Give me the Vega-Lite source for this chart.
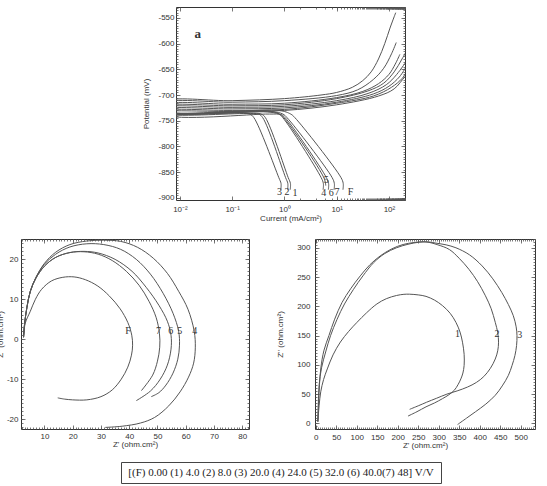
{
"$schema": "https://vega.github.io/schema/vega-lite/v6.json",
"background": "white",
"padding": {"left": -5, "top": 6, "right": 4, "bottom": 0},
"config": {
  "view": {"stroke": "#333", "strokeWidth": 1},
  "axis": {"grid": false, "domain": false, "labelFont": "Liberation Sans", "labelFontSize": 8, "labelColor": "#333", "titleFont": "Liberation Sans", "titleFontSize": 8, "titleFontWeight": "normal", "titleColor": "#333", "tickColor": "#555", "tickWidth": 0.8, "tickSize": -4, "labelPadding": 7, "titlePadding": 2, "labelFlush": false, "labelOverlap": false},
  "line": {"color": "#555", "strokeWidth": 1, "interpolate": "catmull-rom"},
  "text": {"font": "Liberation Serif", "fontSize": 10, "color": "#333"}
},
"spacing": 11,
"vconcat": [
 {"spacing": 15, "vconcat": [
  {"spacing": 154, "bounds": "flush", "hconcat": [
   {"width": 1, "height": 1, "view": {"stroke": null}, "data": {"values": [{"s": 1}]}, "mark": {"type": "point", "opacity": 0, "size": 0}},
   {"width": 229, "height": 193,
    "data": {"values": [
{"c":"F","i":1,"x":13.18,"y":-884},{"c":"F","i":2,"x":13.34,"y":-872},{"c":"F","i":3,"x":12.02,"y":-860},{"c":"F","i":4,"x":1.585,"y":-744},{"c":"F","i":5,"x":1.318,"y":-737},{"c":"F","i":6,"x":0.794,"y":-730},{"c":"F","i":7,"x":0.005,"y":-730},{"c":"F","i":8,"x":0.005,"y":-713},{"c":"F","i":9,"x":0.1,"y":-711},{"c":"F","i":10,"x":1,"y":-707},{"c":"F","i":11,"x":5.01,"y":-700},{"c":"F","i":12,"x":10,"y":-695},{"c":"F","i":13,"x":19.95,"y":-685},{"c":"F","i":14,"x":31.6,"y":-672},{"c":"F","i":15,"x":45.7,"y":-655},{"c":"F","i":16,"x":63.1,"y":-630},{"c":"F","i":17,"x":83.2,"y":-600},{"c":"F","i":18,"x":104.7,"y":-570},{"c":"F","i":19,"x":125.9,"y":-548},{"c":"F","i":20,"x":134.9,"y":-540},
{"c":"7","i":1,"x":8.913,"y":-884},{"c":"7","i":2,"x":9.016,"y":-872},{"c":"7","i":3,"x":8.128,"y":-860},{"c":"7","i":4,"x":1.122,"y":-744},{"c":"7","i":5,"x":0.933,"y":-737},{"c":"7","i":6,"x":0.562,"y":-732},{"c":"7","i":7,"x":0.005,"y":-732},{"c":"7","i":8,"x":0.005,"y":-716},{"c":"7","i":9,"x":0.1,"y":-714},{"c":"7","i":10,"x":1,"y":-711},{"c":"7","i":11,"x":10,"y":-701},{"c":"7","i":12,"x":25.1,"y":-690},{"c":"7","i":13,"x":50.1,"y":-670},{"c":"7","i":14,"x":79.4,"y":-648},{"c":"7","i":15,"x":112,"y":-620},{"c":"7","i":16,"x":138,"y":-598},
{"c":"6","i":1,"x":6.918,"y":-884},{"c":"6","i":2,"x":6.998,"y":-872},{"c":"6","i":3,"x":6.31,"y":-860},{"c":"6","i":4,"x":1.03,"y":-744},{"c":"6","i":5,"x":0.857,"y":-738},{"c":"6","i":6,"x":0.516,"y":-737},{"c":"6","i":7,"x":0.005,"y":-737},{"c":"6","i":8,"x":0.005,"y":-720},{"c":"6","i":9,"x":0.1,"y":-718},{"c":"6","i":10,"x":1,"y":-716},{"c":"6","i":11,"x":10,"y":-705},{"c":"6","i":12,"x":31.6,"y":-693},{"c":"6","i":13,"x":63.1,"y":-678},{"c":"6","i":14,"x":100,"y":-660},{"c":"6","i":15,"x":132,"y":-640},{"c":"6","i":16,"x":162,"y":-621},
{"c":"5","i":1,"x":6.166,"y":-876},{"c":"5","i":2,"x":5.754,"y":-862},{"c":"5","i":3,"x":0.971,"y":-744},{"c":"5","i":4,"x":0.807,"y":-737},{"c":"5","i":5,"x":0.486,"y":-731},{"c":"5","i":6,"x":0.005,"y":-731},{"c":"5","i":7,"x":0.005,"y":-722},{"c":"5","i":8,"x":0.1,"y":-721},{"c":"5","i":9,"x":1,"y":-719},{"c":"5","i":10,"x":10,"y":-707},{"c":"5","i":11,"x":39.8,"y":-692},{"c":"5","i":12,"x":79.4,"y":-677},{"c":"5","i":13,"x":126,"y":-655},{"c":"5","i":14,"x":178,"y":-630},{"c":"5","i":15,"x":224,"y":-612},
{"c":"4","i":1,"x":5.495,"y":-884},{"c":"4","i":2,"x":5.559,"y":-872},{"c":"4","i":3,"x":5.012,"y":-860},{"c":"4","i":4,"x":0.929,"y":-744},{"c":"4","i":5,"x":0.773,"y":-737},{"c":"4","i":6,"x":0.466,"y":-733},{"c":"4","i":7,"x":0.005,"y":-733},{"c":"4","i":8,"x":0.005,"y":-725},{"c":"4","i":9,"x":0.1,"y":-724},{"c":"4","i":10,"x":1,"y":-722},{"c":"4","i":11,"x":10,"y":-711},{"c":"4","i":12,"x":39.8,"y":-697},{"c":"4","i":13,"x":89.1,"y":-680},{"c":"4","i":14,"x":141,"y":-660},{"c":"4","i":15,"x":224,"y":-632},
{"c":"3","i":1,"x":0.851,"y":-884},{"c":"3","i":2,"x":0.861,"y":-872},{"c":"3","i":3,"x":0.776,"y":-860},{"c":"3","i":4,"x":0.26,"y":-744},{"c":"3","i":5,"x":0.216,"y":-737},{"c":"3","i":6,"x":0.13,"y":-734},{"c":"3","i":7,"x":0.005,"y":-734},{"c":"3","i":8,"x":0.005,"y":-728},{"c":"3","i":9,"x":0.1,"y":-727},{"c":"3","i":10,"x":1,"y":-725},{"c":"3","i":11,"x":10,"y":-714},{"c":"3","i":12,"x":50.1,"y":-698},{"c":"3","i":13,"x":100,"y":-683},{"c":"3","i":14,"x":158,"y":-665},{"c":"3","i":15,"x":224,"y":-642},
{"c":"2","i":1,"x":1.148,"y":-884},{"c":"2","i":2,"x":1.161,"y":-872},{"c":"2","i":3,"x":1.047,"y":-860},{"c":"2","i":4,"x":0.384,"y":-744},{"c":"2","i":5,"x":0.319,"y":-737},{"c":"2","i":6,"x":0.192,"y":-736},{"c":"2","i":7,"x":0.005,"y":-736},{"c":"2","i":8,"x":0.005,"y":-731},{"c":"2","i":9,"x":0.1,"y":-730},{"c":"2","i":10,"x":1,"y":-728},{"c":"2","i":11,"x":10,"y":-716},{"c":"2","i":12,"x":50.1,"y":-702},{"c":"2","i":13,"x":112,"y":-685},{"c":"2","i":14,"x":178,"y":-668},{"c":"2","i":15,"x":224,"y":-652},
{"c":"1","i":1,"x":1.288,"y":-884},{"c":"1","i":2,"x":1.303,"y":-872},{"c":"1","i":3,"x":1.175,"y":-860},{"c":"1","i":4,"x":0.432,"y":-744},{"c":"1","i":5,"x":0.359,"y":-737},{"c":"1","i":6,"x":0.216,"y":-735},{"c":"1","i":7,"x":0.005,"y":-735},{"c":"1","i":8,"x":0.005,"y":-733},{"c":"1","i":9,"x":0.1,"y":-732},{"c":"1","i":10,"x":1,"y":-730},{"c":"1","i":11,"x":10,"y":-719},{"c":"1","i":12,"x":63.1,"y":-702},{"c":"1","i":13,"x":126,"y":-688},{"c":"1","i":14,"x":200,"y":-665},{"c":"1","i":15,"x":224,"y":-660}
    ]},
    "layer": [
     {"mark": {"type": "line", "clip": true},
      "encoding": {
       "x": {"field": "x", "type": "quantitative", "scale": {"type": "log", "domain": [0.0084, 203], "nice": false}, "axis": {"orient": "bottom", "values": [0.01, 0.1, 1, 10, 100], "labelExpr": "datum.value < 0.05 ? '10⁻²' : datum.value < 0.5 ? '10⁻¹' : datum.value < 5 ? '10⁰' : datum.value < 50 ? '10¹' : '10²'", "title": "Current (mA/cm²)", "labelPadding": 9, "titlePadding": 1}},
       "y": {"field": "y", "type": "quantitative", "scale": {"domain": [-904, -529], "nice": false, "zero": false}, "axis": {"orient": "left", "values": [-900, -850, -800, -750, -700, -650, -600, -550], "labelExpr": "replace(datum.label, '−', '-')", "title": "Potential (mV)", "labelPadding": 6, "titlePadding": 7}},
       "detail": {"field": "c"},
       "order": {"field": "i"}
      }},
     {"mark": {"type": "point", "opacity": 0, "clip": true},
      "encoding": {
       "x": {"field": "x", "type": "quantitative", "scale": {"type": "log", "domain": [0.0084, 203], "nice": false}, "axis": {"orient": "top", "values": [0.01, 0.1, 1, 10, 100], "labels": false, "title": null}},
       "y": {"field": "y", "type": "quantitative", "scale": {"domain": [-904, -529], "nice": false, "zero": false}, "axis": {"orient": "right", "values": [-900, -850, -800, -750, -700, -650, -600, -550], "labels": false, "title": null}}
      }},
     {"mark": {"type": "point", "opacity": 0, "clip": true},
      "encoding": {
       "x": {"field": "x", "type": "quantitative", "scale": {"type": "log", "domain": [0.0084, 203], "nice": false}, "axis": {"orient": "bottom", "tickCount": 100, "labels": false, "title": null, "tickSize": -2}},
       "y": {"field": "y", "type": "quantitative", "scale": {"domain": [-904, -529], "nice": false, "zero": false}, "axis": {"orient": "left", "tickCount": 75, "labels": false, "title": null, "tickSize": -2}}
      }},
     {"mark": {"type": "point", "opacity": 0, "clip": true},
      "encoding": {
       "x": {"field": "x", "type": "quantitative", "scale": {"type": "log", "domain": [0.0084, 203], "nice": false}, "axis": {"orient": "top", "tickCount": 100, "labels": false, "title": null, "tickSize": -2}},
       "y": {"field": "y", "type": "quantitative", "scale": {"domain": [-904, -529], "nice": false, "zero": false}, "axis": {"orient": "right", "tickCount": 75, "labels": false, "title": null, "tickSize": -2}}
      }},
     {"data": {"values": [{"t": "3", "x": 0.8, "y": -889}, {"t": "2", "x": 1.12, "y": -889}, {"t": "1", "x": 1.6, "y": -890}, {"t": "4", "x": 5.68, "y": -890}, {"t": "6", "x": 7.85, "y": -890}, {"t": "7", "x": 10.1, "y": -889}, {"t": "F", "x": 18.5, "y": -889}, {"t": "5", "x": 6.3, "y": -866}]},
      "mark": {"type": "text"},
      "encoding": {
       "x": {"field": "x", "type": "quantitative", "scale": {"type": "log", "domain": [0.0084, 203], "nice": false}, "axis": null},
       "y": {"field": "y", "type": "quantitative", "scale": {"domain": [-904, -529], "nice": false, "zero": false}, "axis": null},
       "text": {"field": "t"}
      }},
     {"data": {"values": [{"t": "a", "x": 0.022, "y": -582}]},
      "mark": {"type": "text", "fontWeight": "bold", "fontSize": 13},
      "encoding": {
       "x": {"field": "x", "type": "quantitative", "scale": {"type": "log", "domain": [0.0084, 203], "nice": false}, "axis": null},
       "y": {"field": "y", "type": "quantitative", "scale": {"domain": [-904, -529], "nice": false, "zero": false}, "axis": null},
       "text": {"field": "t"}
      }}
    ],
    "resolve": {"axis": {"x": "independent", "y": "independent"}}
   }
  ]},
  {"spacing": 66, "bounds": "flush", "hconcat": [
   {"width": 228, "height": 190,
    "data": {"values": [
{"c":"4","i":1,"x":2.6,"y":0.5},{"c":"4","i":2,"x":3,"y":4},{"c":"4","i":3,"x":3.8,"y":8},{"c":"4","i":4,"x":5,"y":12},{"c":"4","i":5,"x":7,"y":15.5},{"c":"4","i":6,"x":10,"y":19},{"c":"4","i":7,"x":14,"y":21.8},{"c":"4","i":8,"x":19,"y":23.7},{"c":"4","i":9,"x":25,"y":24.6},{"c":"4","i":10,"x":31,"y":24.8},{"c":"4","i":11,"x":37,"y":24.5},{"c":"4","i":12,"x":43,"y":23},{"c":"4","i":13,"x":48.5,"y":20.3},{"c":"4","i":14,"x":53.5,"y":16.5},{"c":"4","i":15,"x":57.5,"y":12},{"c":"4","i":16,"x":60.8,"y":7.5},{"c":"4","i":17,"x":63,"y":2},{"c":"4","i":18,"x":63.4,"y":-2},{"c":"4","i":19,"x":62.8,"y":-6},{"c":"4","i":20,"x":61,"y":-9.5},{"c":"4","i":21,"x":58,"y":-13.2},{"c":"4","i":22,"x":54,"y":-16.7},{"c":"4","i":23,"x":49,"y":-19.6},{"c":"4","i":24,"x":44,"y":-21},{"c":"4","i":25,"x":37.5,"y":-21.8},{"c":"4","i":26,"x":31.5,"y":-22.1},
{"c":"5","i":1,"x":2.6,"y":0.5},{"c":"5","i":2,"x":3,"y":4},{"c":"5","i":3,"x":3.8,"y":8},{"c":"5","i":4,"x":5,"y":12},{"c":"5","i":5,"x":7,"y":15.5},{"c":"5","i":6,"x":10,"y":18.8},{"c":"5","i":7,"x":14,"y":21.3},{"c":"5","i":8,"x":19,"y":23.1},{"c":"5","i":9,"x":25,"y":23.9},{"c":"5","i":10,"x":31,"y":23.7},{"c":"5","i":11,"x":37,"y":22.5},{"c":"5","i":12,"x":42.5,"y":20},{"c":"5","i":13,"x":47.5,"y":16.3},{"c":"5","i":14,"x":52,"y":11.5},{"c":"5","i":15,"x":55.5,"y":6.5},{"c":"5","i":16,"x":57.5,"y":2},{"c":"5","i":17,"x":57.8,"y":-1.5},{"c":"5","i":18,"x":57.2,"y":-5},{"c":"5","i":19,"x":55.5,"y":-8.5},{"c":"5","i":20,"x":53,"y":-11.5},{"c":"5","i":21,"x":50.5,"y":-13.4},{"c":"5","i":22,"x":47.8,"y":-14.4},
{"c":"6","i":1,"x":2.6,"y":0.5},{"c":"6","i":2,"x":3,"y":4},{"c":"6","i":3,"x":3.8,"y":8},{"c":"6","i":4,"x":5,"y":12},{"c":"6","i":5,"x":7,"y":15.3},{"c":"6","i":6,"x":10,"y":18.3},{"c":"6","i":7,"x":14,"y":20.5},{"c":"6","i":8,"x":19,"y":21.7},{"c":"6","i":9,"x":24,"y":22},{"c":"6","i":10,"x":29,"y":21.6},{"c":"6","i":11,"x":35,"y":20},{"c":"6","i":12,"x":41,"y":17},{"c":"6","i":13,"x":46,"y":13},{"c":"6","i":14,"x":50.5,"y":8.5},{"c":"6","i":15,"x":53.5,"y":4.5},{"c":"6","i":16,"x":54.8,"y":1},{"c":"6","i":17,"x":54.8,"y":-2.5},{"c":"6","i":18,"x":53.5,"y":-6.5},{"c":"6","i":19,"x":51,"y":-10},{"c":"6","i":20,"x":47.5,"y":-13},{"c":"6","i":21,"x":42.5,"y":-15.4},
{"c":"7","i":1,"x":2.6,"y":0.5},{"c":"7","i":2,"x":3,"y":4},{"c":"7","i":3,"x":3.8,"y":8},{"c":"7","i":4,"x":5,"y":12},{"c":"7","i":5,"x":7,"y":15.3},{"c":"7","i":6,"x":10,"y":18.3},{"c":"7","i":7,"x":14,"y":20.5},{"c":"7","i":8,"x":19,"y":21.7},{"c":"7","i":9,"x":24,"y":21.9},{"c":"7","i":10,"x":29,"y":21.3},{"c":"7","i":11,"x":34,"y":19.7},{"c":"7","i":12,"x":39,"y":17},{"c":"7","i":13,"x":43.5,"y":13.5},{"c":"7","i":14,"x":47,"y":9.5},{"c":"7","i":15,"x":49.5,"y":5.5},{"c":"7","i":16,"x":50.7,"y":1.5},{"c":"7","i":17,"x":50.8,"y":-2},{"c":"7","i":18,"x":50,"y":-5.5},{"c":"7","i":19,"x":48.3,"y":-9},{"c":"7","i":20,"x":44.3,"y":-12.9},
{"c":"F","i":1,"x":2.6,"y":0.5},{"c":"F","i":2,"x":3.2,"y":4},{"c":"F","i":3,"x":5,"y":7},{"c":"F","i":4,"x":6.8,"y":10},{"c":"F","i":5,"x":9,"y":12.5},{"c":"F","i":6,"x":12.5,"y":14.6},{"c":"F","i":7,"x":16.5,"y":15.5},{"c":"F","i":8,"x":20.5,"y":15.6},{"c":"F","i":9,"x":24.5,"y":14.9},{"c":"F","i":10,"x":28.9,"y":13.3},{"c":"F","i":11,"x":33,"y":10.8},{"c":"F","i":12,"x":36.8,"y":7.6},{"c":"F","i":13,"x":39.5,"y":4.2},{"c":"F","i":14,"x":40.9,"y":1},{"c":"F","i":15,"x":41.2,"y":-1.5},{"c":"F","i":16,"x":40.8,"y":-4},{"c":"F","i":17,"x":39.5,"y":-7},{"c":"F","i":18,"x":37.2,"y":-10},{"c":"F","i":19,"x":34,"y":-12.7},{"c":"F","i":20,"x":30,"y":-14.4},{"c":"F","i":21,"x":25,"y":-15.2},{"c":"F","i":22,"x":20,"y":-15.2},{"c":"F","i":23,"x":17,"y":-15},{"c":"F","i":24,"x":14.7,"y":-14.7}
    ]},
    "layer": [
     {"mark": {"type": "line", "clip": true},
      "encoding": {
       "x": {"field": "x", "type": "quantitative", "scale": {"domain": [1.7, 82.4], "nice": false, "zero": false}, "axis": {"orient": "bottom", "values": [10, 20, 30, 40, 50, 60, 70, 80], "title": "Z' (ohm.cm²)", "labelPadding": 7, "titlePadding": 0}},
       "y": {"field": "y", "type": "quantitative", "scale": {"domain": [-22.5, 25.1], "nice": false, "zero": false}, "axis": {"orient": "left", "values": [-20, -10, 0, 10, 20], "labelExpr": "replace(datum.label, '−', '-')", "title": "Z'' (ohm.cm²)", "labelPadding": 7, "titlePadding": 2}},
       "detail": {"field": "c"},
       "order": {"field": "i"}
      }},
     {"mark": {"type": "point", "opacity": 0, "clip": true},
      "encoding": {
       "x": {"field": "x", "type": "quantitative", "scale": {"domain": [1.7, 82.4], "nice": false, "zero": false}, "axis": {"orient": "top", "values": [10, 20, 30, 40, 50, 60, 70, 80], "labels": false, "title": null}},
       "y": {"field": "y", "type": "quantitative", "scale": {"domain": [-22.5, 25.1], "nice": false, "zero": false}, "axis": {"orient": "right", "values": [-20, -10, 0, 10, 20], "labels": false, "title": null}}
      }},
     {"mark": {"type": "point", "opacity": 0, "clip": true},
      "encoding": {
       "x": {"field": "x", "type": "quantitative", "scale": {"domain": [1.7, 82.4], "nice": false, "zero": false}, "axis": {"orient": "bottom", "tickCount": 80, "labels": false, "title": null, "tickSize": -2}},
       "y": {"field": "y", "type": "quantitative", "scale": {"domain": [-22.5, 25.1], "nice": false, "zero": false}, "axis": {"orient": "left", "tickCount": 48, "labels": false, "title": null, "tickSize": -2}}
      }},
     {"mark": {"type": "point", "opacity": 0, "clip": true},
      "encoding": {
       "x": {"field": "x", "type": "quantitative", "scale": {"domain": [1.7, 82.4], "nice": false, "zero": false}, "axis": {"orient": "top", "tickCount": 80, "labels": false, "title": null, "tickSize": -2}},
       "y": {"field": "y", "type": "quantitative", "scale": {"domain": [-22.5, 25.1], "nice": false, "zero": false}, "axis": {"orient": "right", "tickCount": 48, "labels": false, "title": null, "tickSize": -2}}
      }},
     {"data": {"values": [{"t": "F", "x": 39.6, "y": 2.1}, {"t": "7", "x": 50.4, "y": 2.1}, {"t": "6", "x": 54.7, "y": 2.1}, {"t": "5", "x": 57.9, "y": 2.1}, {"t": "4", "x": 63.2, "y": 2.1}]},
      "mark": {"type": "text"},
      "encoding": {
       "x": {"field": "x", "type": "quantitative", "scale": {"domain": [1.7, 82.4], "nice": false, "zero": false}, "axis": null},
       "y": {"field": "y", "type": "quantitative", "scale": {"domain": [-22.5, 25.1], "nice": false, "zero": false}, "axis": null},
       "text": {"field": "t"}
      }}
    ],
    "resolve": {"axis": {"x": "independent", "y": "independent"}}
   },
   {"width": 220, "height": 190,
    "data": {"values": [
{"c":"3","i":1,"x":5,"y":3},{"c":"3","i":2,"x":6,"y":30},{"c":"3","i":3,"x":8,"y":65},{"c":"3","i":4,"x":14,"y":95},{"c":"3","i":5,"x":24,"y":122},{"c":"3","i":6,"x":36,"y":150},{"c":"3","i":7,"x":52,"y":178},{"c":"3","i":8,"x":70,"y":204},{"c":"3","i":9,"x":92,"y":229},{"c":"3","i":10,"x":115,"y":252},{"c":"3","i":11,"x":141,"y":274.5},{"c":"3","i":12,"x":168,"y":290},{"c":"3","i":13,"x":197,"y":300},{"c":"3","i":14,"x":225,"y":306},{"c":"3","i":15,"x":253,"y":309.6},{"c":"3","i":16,"x":275,"y":310},{"c":"3","i":17,"x":293,"y":308},{"c":"3","i":18,"x":318,"y":305},{"c":"3","i":19,"x":342,"y":300},{"c":"3","i":20,"x":375,"y":288},{"c":"3","i":21,"x":406,"y":269},{"c":"3","i":22,"x":432,"y":247},{"c":"3","i":23,"x":454,"y":223.5},{"c":"3","i":24,"x":470,"y":203},{"c":"3","i":25,"x":482,"y":184},{"c":"3","i":26,"x":489,"y":165},{"c":"3","i":27,"x":491,"y":150},{"c":"3","i":28,"x":490,"y":133},{"c":"3","i":29,"x":486,"y":116},{"c":"3","i":30,"x":479,"y":99},{"c":"3","i":31,"x":470,"y":82},{"c":"3","i":32,"x":455,"y":64},{"c":"3","i":33,"x":438,"y":48},{"c":"3","i":34,"x":415,"y":33},{"c":"3","i":35,"x":390,"y":20},{"c":"3","i":36,"x":368,"y":9},{"c":"3","i":37,"x":346,"y":-2},
{"c":"2","i":1,"x":5,"y":3},{"c":"2","i":2,"x":7,"y":40},{"c":"2","i":3,"x":12,"y":93},{"c":"2","i":4,"x":20,"y":125},{"c":"2","i":5,"x":32,"y":150},{"c":"2","i":6,"x":46,"y":178},{"c":"2","i":7,"x":64,"y":206.6},{"c":"2","i":8,"x":85,"y":230},{"c":"2","i":9,"x":108.5,"y":252},{"c":"2","i":10,"x":132,"y":271},{"c":"2","i":11,"x":157,"y":286},{"c":"2","i":12,"x":185,"y":298},{"c":"2","i":13,"x":213,"y":305.6},{"c":"2","i":14,"x":240,"y":309},{"c":"2","i":15,"x":269,"y":310},{"c":"2","i":16,"x":298,"y":305},{"c":"2","i":17,"x":326,"y":297},{"c":"2","i":18,"x":350,"y":282},{"c":"2","i":19,"x":374,"y":263},{"c":"2","i":20,"x":395,"y":242},{"c":"2","i":21,"x":414,"y":218},{"c":"2","i":22,"x":428,"y":196},{"c":"2","i":23,"x":438,"y":172.6},{"c":"2","i":24,"x":444,"y":155},{"c":"2","i":25,"x":446,"y":138.7},{"c":"2","i":26,"x":444,"y":124},{"c":"2","i":27,"x":438,"y":110},{"c":"2","i":28,"x":426,"y":94},{"c":"2","i":29,"x":410,"y":80},{"c":"2","i":30,"x":392,"y":70},{"c":"2","i":31,"x":370,"y":62},{"c":"2","i":32,"x":345,"y":55.5},{"c":"2","i":33,"x":320,"y":50},{"c":"2","i":34,"x":295,"y":43},{"c":"2","i":35,"x":270,"y":36},{"c":"2","i":36,"x":250,"y":30},{"c":"2","i":37,"x":229,"y":24},
{"c":"1","i":1,"x":5,"y":3},{"c":"1","i":2,"x":8,"y":30},{"c":"1","i":3,"x":12,"y":54},{"c":"1","i":4,"x":19,"y":75},{"c":"1","i":5,"x":28,"y":93},{"c":"1","i":6,"x":42,"y":117},{"c":"1","i":7,"x":60,"y":139},{"c":"1","i":8,"x":80,"y":157},{"c":"1","i":9,"x":100.5,"y":172.6},{"c":"1","i":10,"x":124,"y":189},{"c":"1","i":11,"x":149,"y":204},{"c":"1","i":12,"x":172,"y":213},{"c":"1","i":13,"x":197,"y":218.5},{"c":"1","i":14,"x":215,"y":220.5},{"c":"1","i":15,"x":229,"y":220.7},{"c":"1","i":16,"x":250,"y":219.5},{"c":"1","i":17,"x":269,"y":217},{"c":"1","i":18,"x":290,"y":210.5},{"c":"1","i":19,"x":309.5,"y":201},{"c":"1","i":20,"x":328,"y":188},{"c":"1","i":21,"x":342,"y":172.6},{"c":"1","i":22,"x":352,"y":156},{"c":"1","i":23,"x":358,"y":138.7},{"c":"1","i":24,"x":362,"y":118},{"c":"1","i":25,"x":362,"y":99},{"c":"1","i":26,"x":359,"y":86},{"c":"1","i":27,"x":354,"y":76},{"c":"1","i":28,"x":347,"y":66},{"c":"1","i":29,"x":338,"y":56.6},{"c":"1","i":30,"x":325,"y":49},{"c":"1","i":31,"x":309.5,"y":42.4},{"c":"1","i":32,"x":290,"y":35},{"c":"1","i":33,"x":269,"y":28.3},{"c":"1","i":34,"x":247,"y":20},{"c":"1","i":35,"x":225,"y":12.5}
    ]},
    "layer": [
     {"mark": {"type": "line", "clip": true},
      "encoding": {
       "x": {"field": "x", "type": "quantitative", "scale": {"domain": [-2, 535], "nice": false, "zero": false}, "axis": {"orient": "bottom", "values": [0, 50, 100, 150, 200, 250, 300, 350, 400, 450, 500], "title": "Z' (ohm.cm²)", "labelPadding": 8, "titlePadding": 0}},
       "y": {"field": "y", "type": "quantitative", "scale": {"domain": [-9.6, 315], "nice": false, "zero": false}, "axis": {"orient": "left", "values": [0, 50, 100, 150, 200, 250, 300], "title": "Z'' (ohm.cm²)", "labelPadding": 9, "titlePadding": 12}},
       "detail": {"field": "c"},
       "order": {"field": "i"}
      }},
     {"mark": {"type": "point", "opacity": 0, "clip": true},
      "encoding": {
       "x": {"field": "x", "type": "quantitative", "scale": {"domain": [-2, 535], "nice": false, "zero": false}, "axis": {"orient": "top", "values": [0, 50, 100, 150, 200, 250, 300, 350, 400, 450, 500], "labels": false, "title": null}},
       "y": {"field": "y", "type": "quantitative", "scale": {"domain": [-9.6, 315], "nice": false, "zero": false}, "axis": {"orient": "right", "values": [0, 50, 100, 150, 200, 250, 300], "labels": false, "title": null}}
      }},
     {"mark": {"type": "point", "opacity": 0, "clip": true},
      "encoding": {
       "x": {"field": "x", "type": "quantitative", "scale": {"domain": [-2, 535], "nice": false, "zero": false}, "axis": {"orient": "bottom", "tickCount": 107, "labels": false, "title": null, "tickSize": -2}},
       "y": {"field": "y", "type": "quantitative", "scale": {"domain": [-9.6, 315], "nice": false, "zero": false}, "axis": {"orient": "left", "tickCount": 65, "labels": false, "title": null, "tickSize": -2}}
      }},
     {"mark": {"type": "point", "opacity": 0, "clip": true},
      "encoding": {
       "x": {"field": "x", "type": "quantitative", "scale": {"domain": [-2, 535], "nice": false, "zero": false}, "axis": {"orient": "top", "tickCount": 107, "labels": false, "title": null, "tickSize": -2}},
       "y": {"field": "y", "type": "quantitative", "scale": {"domain": [-9.6, 315], "nice": false, "zero": false}, "axis": {"orient": "right", "tickCount": 65, "labels": false, "title": null, "tickSize": -2}}
      }},
     {"data": {"values": [{"t": "1", "x": 346, "y": 152}, {"t": "2", "x": 442, "y": 152}, {"t": "3", "x": 498, "y": 151}]},
      "mark": {"type": "text"},
      "encoding": {
       "x": {"field": "x", "type": "quantitative", "scale": {"domain": [-2, 535], "nice": false, "zero": false}, "axis": null},
       "y": {"field": "y", "type": "quantitative", "scale": {"domain": [-9.6, 315], "nice": false, "zero": false}, "axis": null},
       "text": {"field": "t"}
      }}
    ],
    "resolve": {"axis": {"x": "independent", "y": "independent"}}
   }
  ]}
 ]},
 {"spacing": 99, "bounds": "flush", "hconcat": [
  {"width": 1, "height": 1, "view": {"stroke": null}, "data": {"values": [{"s": 1}]}, "mark": {"type": "point", "opacity": 0, "size": 0}},
  {"width": 320, "height": 21, "view": {"stroke": "#444", "strokeWidth": 1},
   "data": {"values": [{"t": "[(F) 0.00 (1) 4.0 (2) 8.0 (3) 20.0 (4) 24.0 (5) 32.0 (6) 40.0(7) 48] V/V"}]},
   "mark": {"type": "text", "font": "Liberation Serif", "fontSize": 11, "color": "#222"},
   "encoding": {"text": {"field": "t"}}}
 ]}
]
}
